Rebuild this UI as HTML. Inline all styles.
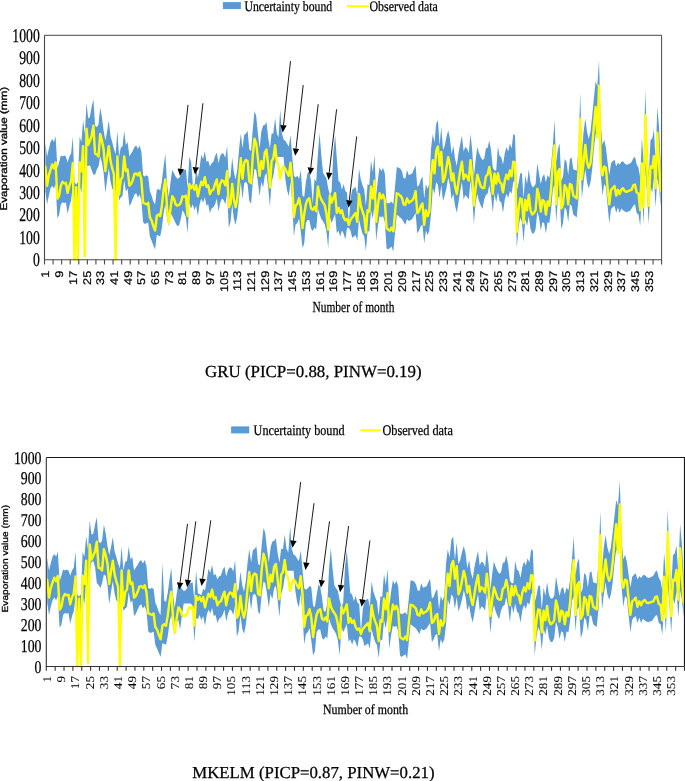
<!DOCTYPE html>
<html><head><meta charset="utf-8"><title>chart</title>
<style>html,body{margin:0;padding:0;background:#fff;}svg{display:block;opacity:0.999;will-change:transform}text{text-rendering:geometricPrecision}</style></head>
<body><svg width="685" height="781" viewBox="0 0 685 781">
<rect width="685" height="781" fill="#fff"/>
<g id="c1">
<polygon points="45.4,143.3 47.1,156.5 48.8,149.1 50.5,141.9 52.2,139.0 53.9,141.9 55.6,136.3 57.4,168.2 59.1,162.4 60.8,155.6 62.5,156.5 64.2,155.6 65.9,156.5 67.6,162.4 69.4,156.5 71.1,153.6 72.8,136.8 74.5,182.3 76.2,184.6 77.9,182.3 79.6,136.8 81.4,141.9 83.1,119.9 84.8,134.1 86.5,103.1 88.2,118.4 89.9,117.0 91.6,106.9 93.4,99.5 95.1,125.8 96.8,127.3 98.5,124.4 100.2,107.6 101.9,117.0 103.6,130.3 105.4,140.4 107.1,131.6 108.8,120.6 110.5,136.1 112.2,141.9 113.9,149.1 115.6,154.3 117.4,130.9 119.1,156.5 120.8,147.6 122.5,146.2 124.2,130.9 125.9,144.9 127.6,141.9 129.4,156.5 131.1,153.6 132.8,150.7 134.5,146.9 136.2,145.5 137.9,149.1 139.6,145.5 141.4,152.0 143.1,175.2 144.8,176.5 146.5,175.2 148.2,176.5 149.9,191.1 151.6,195.6 153.3,201.4 155.1,204.3 156.8,189.8 158.5,188.9 160.2,190.4 161.9,181.0 163.6,166.4 165.3,153.8 167.1,183.9 168.8,196.9 170.5,182.3 172.2,170.0 173.9,172.9 175.6,176.5 177.3,178.8 179.1,178.1 180.8,175.2 182.5,170.7 184.2,170.0 185.9,169.3 187.6,188.2 189.3,156.8 191.1,161.9 192.8,183.9 194.5,185.3 196.2,169.3 197.9,178.1 199.6,167.8 201.3,154.7 203.1,159.0 204.8,150.9 206.5,161.9 208.2,160.6 209.9,166.4 211.6,163.3 213.3,161.9 215.1,156.1 216.8,152.5 218.5,163.3 220.2,156.1 221.9,153.2 223.6,153.8 225.3,157.7 227.1,145.8 228.8,179.4 230.5,176.5 232.2,157.7 233.9,172.2 235.6,179.4 237.3,169.3 239.1,148.7 240.8,133.6 242.5,148.2 244.2,135.0 245.9,133.6 247.6,130.7 249.3,149.6 251.1,151.1 252.8,129.1 254.5,111.0 256.2,116.1 257.9,133.6 259.6,148.2 261.3,132.1 263.1,125.5 264.8,124.9 266.5,122.0 268.2,137.9 269.9,148.2 271.6,133.6 273.3,133.6 275.1,118.1 276.8,133.6 278.5,137.2 280.2,109.4 281.9,133.6 283.6,139.5 285.3,140.8 287.1,143.7 288.8,146.7 290.5,135.0 292.2,155.4 293.9,175.8 295.6,177.4 297.3,175.8 299.1,178.8 300.8,170.0 302.5,195.8 304.2,196.9 305.9,181.7 307.6,172.9 309.3,171.6 311.1,181.7 312.8,203.7 314.5,178.8 316.2,181.7 317.9,154.1 319.6,132.7 321.3,155.4 323.1,172.9 324.8,175.8 326.5,178.8 328.2,188.6 329.9,195.1 331.6,191.3 333.3,152.5 335.1,135.0 336.8,158.3 338.5,181.0 340.2,182.3 341.9,189.8 343.6,183.9 345.3,191.1 347.1,192.7 348.8,223.4 350.5,198.5 352.2,189.8 353.9,188.2 355.6,186.8 357.3,195.6 359.0,168.4 360.8,179.4 362.5,185.3 364.2,189.8 365.9,205.7 367.6,183.9 369.3,185.3 371.0,160.3 372.8,172.2 374.5,154.7 376.2,195.6 377.9,179.4 379.6,167.1 381.3,171.3 383.0,167.8 384.8,173.6 386.5,202.8 388.2,203.5 389.9,202.8 391.6,201.4 393.3,204.3 395.0,186.8 396.8,167.1 398.5,167.8 400.2,168.4 401.9,171.3 403.6,178.1 405.3,178.8 407.0,170.0 408.8,175.2 410.5,174.3 412.2,173.6 413.9,169.3 415.6,165.5 417.3,186.8 419.0,185.3 420.8,179.4 422.5,176.5 424.2,198.5 425.9,183.9 427.6,188.9 429.3,183.9 431.0,148.4 432.8,133.9 434.5,142.6 436.2,123.8 437.9,120.2 439.6,145.5 441.3,126.7 443.0,150.0 444.8,145.5 446.5,136.8 448.2,130.3 449.9,138.3 451.6,154.3 453.3,145.5 455.0,158.8 456.8,166.0 458.5,152.9 460.2,144.2 461.9,135.4 463.6,151.4 465.3,147.1 467.0,148.4 468.8,152.9 470.5,133.9 472.2,150.0 473.9,177.6 475.6,160.1 477.3,147.1 479.0,152.9 480.8,157.2 482.5,160.1 484.2,158.8 485.9,148.4 487.6,147.8 489.3,140.6 491.0,150.0 492.8,167.5 494.5,170.4 496.2,170.4 497.9,146.4 499.6,155.9 501.3,157.2 503.0,164.6 504.8,152.9 506.5,147.1 508.2,151.4 509.9,143.5 511.6,148.4 513.3,133.9 515.0,135.4 516.8,190.9 518.5,183.5 520.2,173.4 521.9,172.9 523.6,198.5 525.3,174.9 527.0,183.9 528.8,169.3 530.5,182.3 532.2,186.8 533.9,186.8 535.6,183.9 537.3,163.3 539.0,173.6 540.8,183.9 542.5,176.5 544.2,174.3 545.9,182.3 547.6,174.9 549.3,178.1 551.0,166.2 552.8,145.8 554.5,120.2 556.2,161.9 557.9,148.7 559.6,143.5 561.3,181.0 563.0,176.5 564.7,159.0 566.5,161.9 568.2,174.9 569.9,159.0 571.6,157.4 573.3,169.3 575.0,170.0 576.7,170.7 578.5,148.7 580.2,93.0 581.9,152.3 583.6,131.8 585.3,118.6 587.0,131.8 588.7,139.0 590.5,131.8 592.2,115.7 593.9,98.2 595.6,81.3 597.3,86.5 599.0,60.2 600.7,123.1 602.5,144.9 604.2,139.7 605.9,147.6 607.6,161.9 609.3,174.9 611.0,163.5 612.7,161.2 614.5,159.7 616.2,166.4 617.9,162.6 619.6,164.8 621.3,161.9 623.0,161.2 624.7,163.5 626.5,164.8 628.2,164.2 629.9,163.5 631.6,161.9 633.3,158.3 635.0,156.8 636.7,164.8 638.5,167.8 640.2,178.1 641.9,137.2 643.6,163.5 645.3,90.1 647.0,141.5 648.7,175.2 650.5,140.1 652.2,138.6 653.9,129.8 655.6,160.6 657.3,106.9 659.0,126.9 660.7,163.5 660.7,207.3 659.0,186.8 657.3,178.1 655.6,207.3 653.9,178.1 652.2,192.7 650.5,186.8 648.7,223.9 647.0,192.4 645.3,170.0 643.6,223.9 641.9,192.4 640.2,226.1 638.5,214.5 636.7,213.1 635.0,204.3 633.3,205.7 631.6,208.6 629.9,210.9 628.2,211.5 626.5,212.2 624.7,211.5 623.0,210.2 621.3,208.6 619.6,213.1 617.9,207.3 616.2,213.1 614.5,205.7 612.7,207.3 611.0,209.3 609.3,223.2 607.6,205.7 605.9,186.8 604.2,183.9 602.5,195.6 600.7,174.5 599.0,125.1 597.3,138.6 595.6,134.1 593.9,148.7 592.2,169.1 590.5,182.3 588.7,188.2 587.0,182.3 585.3,169.1 583.6,182.3 581.9,198.5 580.2,152.0 578.5,198.5 576.7,217.4 575.0,216.0 573.3,214.5 571.6,205.7 569.9,204.3 568.2,221.9 566.5,210.2 564.7,207.3 563.0,223.2 561.3,229.0 559.6,195.6 557.9,198.5 556.2,221.9 554.5,183.9 552.8,189.8 551.0,210.2 549.3,223.2 547.6,221.9 545.9,233.5 544.2,223.2 542.5,221.9 540.8,230.6 539.0,217.4 537.3,211.5 535.6,229.0 533.9,233.5 532.2,233.5 530.5,229.0 528.8,216.0 527.0,226.1 525.3,218.9 523.6,242.3 521.9,221.9 520.2,217.4 518.5,227.7 516.8,248.1 515.0,180.6 513.3,182.1 511.6,193.8 509.9,190.9 508.2,198.1 506.5,193.8 504.8,199.6 503.0,212.7 501.3,202.6 499.6,201.0 497.9,192.2 496.2,202.6 494.5,193.8 492.8,212.7 491.0,195.1 489.3,185.0 487.6,193.8 485.9,195.1 484.2,199.6 482.5,209.1 480.8,205.5 479.0,201.0 477.3,193.8 475.6,202.6 473.9,224.3 472.2,195.1 470.5,180.6 468.8,199.6 467.0,196.7 465.3,195.1 463.6,199.6 461.9,182.1 460.2,190.9 458.5,202.6 456.8,212.7 455.0,205.5 453.3,193.8 451.6,199.6 449.9,185.0 448.2,177.6 446.5,188.0 444.8,195.1 443.0,201.0 441.3,185.0 439.6,198.1 437.9,185.0 436.2,182.1 434.5,193.8 432.8,188.0 431.0,214.2 429.3,230.6 427.6,234.9 425.9,230.6 424.2,243.6 422.5,224.8 420.8,226.1 419.0,230.6 417.3,233.5 415.6,213.1 413.9,216.0 412.2,218.9 410.5,220.3 408.8,221.0 407.0,218.9 405.3,224.8 403.6,221.9 401.9,218.9 400.2,217.4 398.5,216.0 396.8,214.5 395.0,233.5 393.3,251.7 391.6,246.6 389.9,248.1 388.2,249.5 386.5,248.1 384.8,221.9 383.0,216.0 381.3,217.4 379.6,216.0 377.9,226.1 376.2,240.7 374.5,204.3 372.8,218.9 371.0,210.2 369.3,232.0 367.6,230.6 365.9,251.0 364.2,236.5 362.5,233.5 360.8,227.7 359.0,218.9 357.3,240.7 355.6,234.9 353.9,236.5 352.2,237.8 350.5,230.6 348.8,227.7 347.1,227.7 345.3,239.4 343.6,233.5 341.9,230.6 340.2,236.5 338.5,230.6 336.8,233.3 335.1,214.2 333.3,218.7 331.6,223.0 329.9,217.1 328.2,247.9 326.5,231.7 324.8,224.6 323.1,221.6 321.3,218.7 319.6,214.2 317.9,208.4 316.2,229.5 314.5,227.5 312.8,231.1 311.1,228.8 309.3,220.1 307.6,220.1 305.9,223.0 304.2,243.4 302.5,247.9 300.8,231.7 299.1,218.7 297.3,223.0 295.6,224.6 293.9,236.2 292.2,202.1 290.5,181.7 288.8,196.3 287.1,190.4 285.3,178.8 283.6,157.0 281.9,157.0 280.2,157.0 278.5,157.0 276.8,157.0 275.1,164.2 273.3,175.8 271.6,181.7 269.9,206.6 268.2,187.5 266.5,172.9 264.8,175.8 263.1,187.5 261.3,181.7 259.6,196.3 257.9,181.7 256.2,170.0 254.5,168.7 252.8,181.7 251.1,203.7 249.3,200.8 247.6,184.6 245.9,181.7 244.2,183.2 242.5,199.2 240.8,181.7 239.1,198.5 237.3,216.0 235.6,224.8 233.9,218.9 232.2,204.3 230.5,221.9 228.8,227.7 227.1,194.0 225.3,204.3 223.6,199.9 221.9,198.5 220.2,202.8 218.5,211.5 216.8,198.5 215.1,204.3 213.3,207.3 211.6,208.6 209.9,213.1 208.2,204.3 206.5,205.7 204.8,196.9 203.1,202.8 201.3,198.5 199.6,204.3 197.9,216.0 196.2,205.7 194.5,210.2 192.8,204.3 191.1,208.6 189.3,202.8 187.6,233.5 185.9,217.4 184.2,213.1 182.5,210.2 180.8,218.9 179.1,225.5 177.3,226.1 175.6,223.2 173.9,219.6 172.2,216.0 170.5,213.1 168.8,226.1 167.1,218.9 165.3,204.3 163.6,213.1 161.9,227.7 160.2,236.5 158.5,235.6 156.8,234.9 155.1,249.5 153.3,245.2 151.6,240.7 149.9,236.5 148.2,222.5 146.5,223.2 144.8,223.9 143.1,221.9 141.4,200.3 139.6,194.5 137.9,197.4 136.2,192.9 134.5,194.5 132.8,198.7 131.1,203.2 129.4,205.9 127.6,188.6 125.9,191.3 124.2,179.9 122.5,195.8 120.8,197.4 119.1,200.3 117.4,179.9 115.6,194.7 113.9,191.3 112.2,188.6 110.5,181.2 108.8,168.2 107.1,179.9 105.4,192.9 103.6,172.5 101.9,162.4 100.2,156.5 98.5,166.6 96.8,169.6 95.1,174.7 93.4,174.5 91.6,170.0 89.9,165.3 88.2,166.0 86.5,166.0 84.8,174.5 83.1,170.0 81.4,192.4 79.6,185.7 77.9,208.2 76.2,205.9 74.5,208.2 72.8,185.7 71.1,200.3 69.4,205.9 67.6,213.8 65.9,202.3 64.2,203.2 62.5,202.3 60.8,204.6 59.1,214.9 57.4,218.3 55.6,184.1 53.9,188.6 52.2,185.7 50.5,188.6 48.8,195.8 47.1,204.6 45.4,191.3" fill="#5B9BD5"/>
<polyline points="45.4,166.6 47.1,185.7 48.8,175.4 50.5,170.0 52.2,164.4 53.9,168.2 55.6,162.4 57.4,198.7 59.1,195.8 60.8,185.7 62.5,181.9 64.2,183.5 65.9,182.8 67.6,192.9 69.4,185.7 71.1,181.2 72.8,163.0 74.5,259.8 76.2,187.1 77.9,259.8 79.6,162.4 81.4,171.1 83.1,146.2 84.8,255.8 86.5,128.7 88.2,144.9 89.9,140.8 91.6,136.1 93.4,125.8 95.1,153.6 96.8,154.3 98.5,156.5 100.2,133.9 101.9,140.4 103.6,149.1 105.4,171.1 107.1,157.9 108.8,146.2 110.5,160.8 112.2,168.2 113.9,174.0 115.6,259.8 117.4,156.5 119.1,194.5 120.8,179.9 122.5,177.0 124.2,156.5 125.9,171.1 127.6,169.6 129.4,185.7 131.1,184.1 132.8,179.9 134.5,174.0 136.2,173.4 137.9,175.4 139.6,172.5 141.4,179.9 143.1,202.8 144.8,203.5 146.5,204.3 148.2,202.8 149.9,217.4 151.6,220.3 153.3,226.1 155.1,230.6 156.8,216.0 158.5,214.5 160.2,216.0 161.9,205.7 163.6,189.8 165.3,179.4 167.1,208.6 168.8,223.2 170.5,208.6 172.2,196.3 173.9,198.5 175.6,204.3 177.3,205.7 179.1,205.0 180.8,202.8 182.5,196.3 184.2,196.9 185.9,195.6 187.6,216.0 189.3,183.9 191.1,188.2 192.8,185.3 194.5,189.8 196.2,185.3 197.9,196.3 199.6,188.2 201.3,181.7 203.1,185.3 204.8,177.2 206.5,186.8 208.2,185.3 209.9,194.0 211.6,190.4 213.3,189.8 215.1,183.9 216.8,179.4 218.5,194.0 220.2,183.9 221.9,180.3 223.6,181.0 225.3,185.3 227.1,171.3 228.8,207.3 230.5,204.3 232.2,183.9 233.9,199.9 235.6,207.3 237.3,198.5 239.1,176.5 240.8,158.3 242.5,178.8 244.2,162.8 245.9,159.9 247.6,161.2 249.3,181.7 251.1,183.2 252.8,155.4 254.5,138.8 256.2,143.7 257.9,158.3 259.6,175.8 261.3,161.2 263.1,168.7 264.8,152.5 266.5,149.6 268.2,165.7 269.9,187.5 271.6,161.2 273.3,158.3 275.1,145.3 276.8,161.2 278.5,165.7 280.2,178.8 281.9,170.0 283.6,166.4 285.3,168.7 287.1,172.9 288.8,175.8 290.5,162.8 292.2,181.7 293.9,217.1 295.6,205.5 297.3,204.1 299.1,198.3 300.8,207.0 302.5,228.1 304.2,214.2 305.9,204.1 307.6,199.6 309.3,198.3 311.1,208.4 312.8,210.0 314.5,207.0 316.2,211.3 317.9,186.6 319.6,195.4 321.3,199.6 323.1,202.6 324.8,205.5 326.5,214.2 328.2,229.5 329.9,195.4 331.6,202.6 333.3,198.3 335.1,193.1 336.8,212.9 338.5,207.9 340.2,213.1 341.9,210.2 343.6,217.4 345.3,220.3 347.1,218.9 348.8,224.8 350.5,219.6 352.2,217.4 353.9,215.1 355.6,213.1 357.3,221.9 359.0,194.0 360.8,205.7 362.5,211.5 364.2,216.0 365.9,232.6 367.6,210.2 369.3,211.5 371.0,186.8 372.8,198.5 374.5,180.8 376.2,221.9 377.9,205.7 379.6,193.3 381.3,198.5 383.0,194.7 384.8,199.9 386.5,227.7 388.2,229.7 389.9,230.6 391.6,227.7 393.3,231.3 395.0,213.1 396.8,193.3 398.5,194.0 400.2,195.6 401.9,197.6 403.6,204.3 405.3,205.0 407.0,198.5 408.8,202.8 410.5,201.4 412.2,200.5 413.9,197.6 415.6,191.1 417.3,213.1 419.0,211.5 420.8,205.7 422.5,203.5 424.2,224.8 425.9,210.2 427.6,216.0 429.3,211.5 431.0,176.3 432.8,160.1 434.5,173.4 436.2,150.9 437.9,146.4 439.6,165.5 441.3,152.0 443.0,182.1 444.8,177.6 446.5,167.5 448.2,157.2 449.9,164.6 451.6,180.6 453.3,173.4 455.0,186.4 456.8,193.8 458.5,182.1 460.2,170.4 461.9,161.7 463.6,179.2 465.3,174.7 467.0,176.3 468.8,180.6 470.5,160.1 472.2,176.3 473.9,205.5 475.6,188.0 477.3,174.7 479.0,180.6 480.8,186.4 482.5,188.0 484.2,188.0 485.9,176.3 487.6,174.7 489.3,166.9 491.0,176.3 492.8,193.8 494.5,173.4 496.2,183.5 497.9,173.4 499.6,182.1 501.3,183.5 503.0,192.2 504.8,180.6 506.5,174.7 508.2,179.2 509.9,170.4 511.6,176.3 513.3,161.7 515.0,162.4 516.8,232.0 518.5,210.2 520.2,198.5 521.9,199.2 523.6,223.2 525.3,199.9 527.0,210.2 528.8,194.7 530.5,210.2 532.2,214.5 533.9,213.1 535.6,210.2 537.3,188.9 539.0,195.6 540.8,211.5 542.5,199.9 544.2,201.4 545.9,214.5 547.6,201.4 549.3,205.7 551.0,189.8 552.8,163.3 554.5,145.5 556.2,204.3 557.9,172.0 559.6,169.1 561.3,208.6 563.0,204.3 564.7,185.3 566.5,188.2 568.2,204.3 569.9,183.9 571.6,185.3 573.3,195.6 575.0,196.9 576.7,198.5 578.5,172.0 580.2,118.6 581.9,179.4 583.6,161.9 585.3,144.9 587.0,161.9 588.7,167.8 590.5,163.3 592.2,147.3 593.9,125.1 595.6,106.9 597.3,137.7 599.0,85.8 600.7,165.5 602.5,175.2 604.2,166.4 605.9,167.8 607.6,188.2 609.3,204.3 611.0,189.8 612.7,188.2 614.5,185.9 616.2,195.6 617.9,189.8 619.6,194.0 621.3,189.8 623.0,188.2 624.7,191.1 626.5,191.8 628.2,191.1 629.9,190.4 631.6,189.8 633.3,185.3 635.0,184.6 636.7,192.7 638.5,193.3 640.2,210.2 641.9,163.5 643.6,207.3 645.3,115.2 647.0,163.5 648.7,205.7 650.5,166.4 652.2,167.8 653.9,156.1 655.6,188.2 657.3,132.7 659.0,163.5 660.7,191.1" fill="none" stroke="#FFFF00" stroke-width="2.4" stroke-linejoin="round" stroke-linecap="round"/>
<path d="M44.5,35.3 H661.6 V259.8" fill="none" stroke="#333" stroke-width="0.9"/>
<path d="M44.5,35.3 V259.8 H661.6" fill="none" stroke="#484848" stroke-width="1.1"/>
<path d="M44.50,259.8 v4.7M53.07,259.8 v4.7M61.64,259.8 v4.7M70.21,259.8 v4.7M78.78,259.8 v4.7M87.35,259.8 v4.7M95.93,259.8 v4.7M104.50,259.8 v4.7M113.07,259.8 v4.7M121.64,259.8 v4.7M130.21,259.8 v4.7M138.78,259.8 v4.7M147.35,259.8 v4.7M155.92,259.8 v4.7M164.49,259.8 v4.7M173.06,259.8 v4.7M181.63,259.8 v4.7M190.20,259.8 v4.7M198.78,259.8 v4.7M207.35,259.8 v4.7M215.92,259.8 v4.7M224.49,259.8 v4.7M233.06,259.8 v4.7M241.63,259.8 v4.7M250.20,259.8 v4.7M258.77,259.8 v4.7M267.34,259.8 v4.7M275.91,259.8 v4.7M284.48,259.8 v4.7M293.05,259.8 v4.7M301.62,259.8 v4.7M310.20,259.8 v4.7M318.77,259.8 v4.7M327.34,259.8 v4.7M335.91,259.8 v4.7M344.48,259.8 v4.7M353.05,259.8 v4.7M361.62,259.8 v4.7M370.19,259.8 v4.7M378.76,259.8 v4.7M387.33,259.8 v4.7M395.90,259.8 v4.7M404.48,259.8 v4.7M413.05,259.8 v4.7M421.62,259.8 v4.7M430.19,259.8 v4.7M438.76,259.8 v4.7M447.33,259.8 v4.7M455.90,259.8 v4.7M464.47,259.8 v4.7M473.04,259.8 v4.7M481.61,259.8 v4.7M490.18,259.8 v4.7M498.75,259.8 v4.7M507.33,259.8 v4.7M515.90,259.8 v4.7M524.47,259.8 v4.7M533.04,259.8 v4.7M541.61,259.8 v4.7M550.18,259.8 v4.7M558.75,259.8 v4.7M567.32,259.8 v4.7M575.89,259.8 v4.7M584.46,259.8 v4.7M593.03,259.8 v4.7M601.60,259.8 v4.7M610.18,259.8 v4.7M618.75,259.8 v4.7M627.32,259.8 v4.7M635.89,259.8 v4.7M644.46,259.8 v4.7M653.03,259.8 v4.7M661.60,259.8 v4.7" stroke="#484848" stroke-width="1.1" fill="none"/>
<text transform="translate(49.36,270.80) rotate(-90) scale(1.000,0.880)" font-family="Liberation Sans, serif" font-size="12.7" text-anchor="end" fill="#000" stroke="#000" stroke-width="0.22">1</text>
<text transform="translate(63.07,270.80) rotate(-90) scale(1.000,0.880)" font-family="Liberation Sans, serif" font-size="12.7" text-anchor="end" fill="#000" stroke="#000" stroke-width="0.22">9</text>
<text transform="translate(76.78,270.80) rotate(-90) scale(1.000,0.880)" font-family="Liberation Sans, serif" font-size="12.7" text-anchor="end" fill="#000" stroke="#000" stroke-width="0.22">17</text>
<text transform="translate(90.50,270.80) rotate(-90) scale(1.000,0.880)" font-family="Liberation Sans, serif" font-size="12.7" text-anchor="end" fill="#000" stroke="#000" stroke-width="0.22">25</text>
<text transform="translate(104.21,270.80) rotate(-90) scale(1.000,0.880)" font-family="Liberation Sans, serif" font-size="12.7" text-anchor="end" fill="#000" stroke="#000" stroke-width="0.22">33</text>
<text transform="translate(117.92,270.80) rotate(-90) scale(1.000,0.880)" font-family="Liberation Sans, serif" font-size="12.7" text-anchor="end" fill="#000" stroke="#000" stroke-width="0.22">41</text>
<text transform="translate(131.64,270.80) rotate(-90) scale(1.000,0.880)" font-family="Liberation Sans, serif" font-size="12.7" text-anchor="end" fill="#000" stroke="#000" stroke-width="0.22">49</text>
<text transform="translate(145.35,270.80) rotate(-90) scale(1.000,0.880)" font-family="Liberation Sans, serif" font-size="12.7" text-anchor="end" fill="#000" stroke="#000" stroke-width="0.22">57</text>
<text transform="translate(159.06,270.80) rotate(-90) scale(1.000,0.880)" font-family="Liberation Sans, serif" font-size="12.7" text-anchor="end" fill="#000" stroke="#000" stroke-width="0.22">65</text>
<text transform="translate(172.78,270.80) rotate(-90) scale(1.000,0.880)" font-family="Liberation Sans, serif" font-size="12.7" text-anchor="end" fill="#000" stroke="#000" stroke-width="0.22">73</text>
<text transform="translate(186.49,270.80) rotate(-90) scale(1.000,0.880)" font-family="Liberation Sans, serif" font-size="12.7" text-anchor="end" fill="#000" stroke="#000" stroke-width="0.22">81</text>
<text transform="translate(200.20,270.80) rotate(-90) scale(1.000,0.880)" font-family="Liberation Sans, serif" font-size="12.7" text-anchor="end" fill="#000" stroke="#000" stroke-width="0.22">89</text>
<text transform="translate(213.92,270.80) rotate(-90) scale(1.000,0.880)" font-family="Liberation Sans, serif" font-size="12.7" text-anchor="end" fill="#000" stroke="#000" stroke-width="0.22">97</text>
<text transform="translate(227.63,270.80) rotate(-90) scale(1.000,0.880)" font-family="Liberation Sans, serif" font-size="12.7" text-anchor="end" fill="#000" stroke="#000" stroke-width="0.22">105</text>
<text transform="translate(241.34,270.80) rotate(-90) scale(1.000,0.880)" font-family="Liberation Sans, serif" font-size="12.7" text-anchor="end" fill="#000" stroke="#000" stroke-width="0.22">113</text>
<text transform="translate(255.06,270.80) rotate(-90) scale(1.000,0.880)" font-family="Liberation Sans, serif" font-size="12.7" text-anchor="end" fill="#000" stroke="#000" stroke-width="0.22">121</text>
<text transform="translate(268.77,270.80) rotate(-90) scale(1.000,0.880)" font-family="Liberation Sans, serif" font-size="12.7" text-anchor="end" fill="#000" stroke="#000" stroke-width="0.22">129</text>
<text transform="translate(282.48,270.80) rotate(-90) scale(1.000,0.880)" font-family="Liberation Sans, serif" font-size="12.7" text-anchor="end" fill="#000" stroke="#000" stroke-width="0.22">137</text>
<text transform="translate(296.20,270.80) rotate(-90) scale(1.000,0.880)" font-family="Liberation Sans, serif" font-size="12.7" text-anchor="end" fill="#000" stroke="#000" stroke-width="0.22">145</text>
<text transform="translate(309.91,270.80) rotate(-90) scale(1.000,0.880)" font-family="Liberation Sans, serif" font-size="12.7" text-anchor="end" fill="#000" stroke="#000" stroke-width="0.22">153</text>
<text transform="translate(323.62,270.80) rotate(-90) scale(1.000,0.880)" font-family="Liberation Sans, serif" font-size="12.7" text-anchor="end" fill="#000" stroke="#000" stroke-width="0.22">161</text>
<text transform="translate(337.34,270.80) rotate(-90) scale(1.000,0.880)" font-family="Liberation Sans, serif" font-size="12.7" text-anchor="end" fill="#000" stroke="#000" stroke-width="0.22">169</text>
<text transform="translate(351.05,270.80) rotate(-90) scale(1.000,0.880)" font-family="Liberation Sans, serif" font-size="12.7" text-anchor="end" fill="#000" stroke="#000" stroke-width="0.22">177</text>
<text transform="translate(364.76,270.80) rotate(-90) scale(1.000,0.880)" font-family="Liberation Sans, serif" font-size="12.7" text-anchor="end" fill="#000" stroke="#000" stroke-width="0.22">185</text>
<text transform="translate(378.48,270.80) rotate(-90) scale(1.000,0.880)" font-family="Liberation Sans, serif" font-size="12.7" text-anchor="end" fill="#000" stroke="#000" stroke-width="0.22">193</text>
<text transform="translate(392.19,270.80) rotate(-90) scale(1.000,0.880)" font-family="Liberation Sans, serif" font-size="12.7" text-anchor="end" fill="#000" stroke="#000" stroke-width="0.22">201</text>
<text transform="translate(405.90,270.80) rotate(-90) scale(1.000,0.880)" font-family="Liberation Sans, serif" font-size="12.7" text-anchor="end" fill="#000" stroke="#000" stroke-width="0.22">209</text>
<text transform="translate(419.62,270.80) rotate(-90) scale(1.000,0.880)" font-family="Liberation Sans, serif" font-size="12.7" text-anchor="end" fill="#000" stroke="#000" stroke-width="0.22">217</text>
<text transform="translate(433.33,270.80) rotate(-90) scale(1.000,0.880)" font-family="Liberation Sans, serif" font-size="12.7" text-anchor="end" fill="#000" stroke="#000" stroke-width="0.22">225</text>
<text transform="translate(447.04,270.80) rotate(-90) scale(1.000,0.880)" font-family="Liberation Sans, serif" font-size="12.7" text-anchor="end" fill="#000" stroke="#000" stroke-width="0.22">233</text>
<text transform="translate(460.76,270.80) rotate(-90) scale(1.000,0.880)" font-family="Liberation Sans, serif" font-size="12.7" text-anchor="end" fill="#000" stroke="#000" stroke-width="0.22">241</text>
<text transform="translate(474.47,270.80) rotate(-90) scale(1.000,0.880)" font-family="Liberation Sans, serif" font-size="12.7" text-anchor="end" fill="#000" stroke="#000" stroke-width="0.22">249</text>
<text transform="translate(488.18,270.80) rotate(-90) scale(1.000,0.880)" font-family="Liberation Sans, serif" font-size="12.7" text-anchor="end" fill="#000" stroke="#000" stroke-width="0.22">257</text>
<text transform="translate(501.90,270.80) rotate(-90) scale(1.000,0.880)" font-family="Liberation Sans, serif" font-size="12.7" text-anchor="end" fill="#000" stroke="#000" stroke-width="0.22">265</text>
<text transform="translate(515.61,270.80) rotate(-90) scale(1.000,0.880)" font-family="Liberation Sans, serif" font-size="12.7" text-anchor="end" fill="#000" stroke="#000" stroke-width="0.22">273</text>
<text transform="translate(529.32,270.80) rotate(-90) scale(1.000,0.880)" font-family="Liberation Sans, serif" font-size="12.7" text-anchor="end" fill="#000" stroke="#000" stroke-width="0.22">281</text>
<text transform="translate(543.04,270.80) rotate(-90) scale(1.000,0.880)" font-family="Liberation Sans, serif" font-size="12.7" text-anchor="end" fill="#000" stroke="#000" stroke-width="0.22">289</text>
<text transform="translate(556.75,270.80) rotate(-90) scale(1.000,0.880)" font-family="Liberation Sans, serif" font-size="12.7" text-anchor="end" fill="#000" stroke="#000" stroke-width="0.22">297</text>
<text transform="translate(570.46,270.80) rotate(-90) scale(1.000,0.880)" font-family="Liberation Sans, serif" font-size="12.7" text-anchor="end" fill="#000" stroke="#000" stroke-width="0.22">305</text>
<text transform="translate(584.18,270.80) rotate(-90) scale(1.000,0.880)" font-family="Liberation Sans, serif" font-size="12.7" text-anchor="end" fill="#000" stroke="#000" stroke-width="0.22">313</text>
<text transform="translate(597.89,270.80) rotate(-90) scale(1.000,0.880)" font-family="Liberation Sans, serif" font-size="12.7" text-anchor="end" fill="#000" stroke="#000" stroke-width="0.22">321</text>
<text transform="translate(611.60,270.80) rotate(-90) scale(1.000,0.880)" font-family="Liberation Sans, serif" font-size="12.7" text-anchor="end" fill="#000" stroke="#000" stroke-width="0.22">329</text>
<text transform="translate(625.32,270.80) rotate(-90) scale(1.000,0.880)" font-family="Liberation Sans, serif" font-size="12.7" text-anchor="end" fill="#000" stroke="#000" stroke-width="0.22">337</text>
<text transform="translate(639.03,270.80) rotate(-90) scale(1.000,0.880)" font-family="Liberation Sans, serif" font-size="12.7" text-anchor="end" fill="#000" stroke="#000" stroke-width="0.22">345</text>
<text transform="translate(652.74,270.80) rotate(-90) scale(1.000,0.880)" font-family="Liberation Sans, serif" font-size="12.7" text-anchor="end" fill="#000" stroke="#000" stroke-width="0.22">353</text>
<text transform="translate(39.80,266.30) scale(0.708,1.000)" font-family="Liberation Serif, serif" font-size="19.4" text-anchor="end" fill="#000" stroke="#000" stroke-width="0.25">0</text>
<text transform="translate(39.80,243.85) scale(0.708,1.000)" font-family="Liberation Serif, serif" font-size="19.4" text-anchor="end" fill="#000" stroke="#000" stroke-width="0.25">100</text>
<text transform="translate(39.80,221.40) scale(0.708,1.000)" font-family="Liberation Serif, serif" font-size="19.4" text-anchor="end" fill="#000" stroke="#000" stroke-width="0.25">200</text>
<text transform="translate(39.80,198.95) scale(0.708,1.000)" font-family="Liberation Serif, serif" font-size="19.4" text-anchor="end" fill="#000" stroke="#000" stroke-width="0.25">300</text>
<text transform="translate(39.80,176.50) scale(0.708,1.000)" font-family="Liberation Serif, serif" font-size="19.4" text-anchor="end" fill="#000" stroke="#000" stroke-width="0.25">400</text>
<text transform="translate(39.80,154.05) scale(0.708,1.000)" font-family="Liberation Serif, serif" font-size="19.4" text-anchor="end" fill="#000" stroke="#000" stroke-width="0.25">500</text>
<text transform="translate(39.80,131.60) scale(0.708,1.000)" font-family="Liberation Serif, serif" font-size="19.4" text-anchor="end" fill="#000" stroke="#000" stroke-width="0.25">600</text>
<text transform="translate(39.80,109.15) scale(0.708,1.000)" font-family="Liberation Serif, serif" font-size="19.4" text-anchor="end" fill="#000" stroke="#000" stroke-width="0.25">700</text>
<text transform="translate(39.80,86.70) scale(0.708,1.000)" font-family="Liberation Serif, serif" font-size="19.4" text-anchor="end" fill="#000" stroke="#000" stroke-width="0.25">800</text>
<text transform="translate(39.80,64.25) scale(0.708,1.000)" font-family="Liberation Serif, serif" font-size="19.4" text-anchor="end" fill="#000" stroke="#000" stroke-width="0.25">900</text>
<text transform="translate(39.80,41.80) scale(0.708,1.000)" font-family="Liberation Serif, serif" font-size="19.4" text-anchor="end" fill="#000" stroke="#000" stroke-width="0.25">1000</text>
<text transform="translate(7.3,148.7) rotate(-90) scale(1.19,1)" font-family="Liberation Sans, sans-serif" font-size="9.8" text-anchor="middle" fill="#000" stroke="#000" stroke-width="0.3">Evaporation value (mm)</text>
<text transform="translate(312.50,311.50) scale(0.747,1.000)" font-family="Liberation Serif, serif" font-size="15.3" text-anchor="start" fill="#000" stroke="#000" stroke-width="0.25">Number of month</text>
<rect x="222.9" y="2.1" width="18" height="7" fill="#5B9BD5"/>
<text transform="translate(244.40,10.90) scale(0.816,1.000)" font-family="Liberation Serif, serif" font-size="14.4" text-anchor="start" fill="#000" stroke="#000" stroke-width="0.25">Uncertainty bound</text>
<path d="M347,6.2 H368.8" stroke="#FFFF00" stroke-width="2"/>
<text transform="translate(369.50,10.90) scale(0.827,1.000)" font-family="Liberation Serif, serif" font-size="14.4" text-anchor="start" fill="#000" stroke="#000" stroke-width="0.25">Observed data</text>
<path d="M188.0,104.9 L180.8,168.8" stroke="#000" stroke-width="0.9" fill="none"/>
<path d="M180.0,176.1 L177.6,168.5 L184.0,169.2 Z" fill="#000"/>
<path d="M202.9,103.3 L195.8,167.2" stroke="#000" stroke-width="0.9" fill="none"/>
<path d="M195.0,174.5 L192.6,166.9 L199.0,167.6 Z" fill="#000"/>
<path d="M290.5,61.1 L283.5,125.2" stroke="#000" stroke-width="0.9" fill="none"/>
<path d="M282.7,132.5 L280.3,124.9 L286.7,125.6 Z" fill="#000"/>
<path d="M303.2,85.1 L296.0,148.5" stroke="#000" stroke-width="0.9" fill="none"/>
<path d="M295.2,155.8 L292.8,148.2 L299.2,148.9 Z" fill="#000"/>
<path d="M318.2,104.2 L310.8,167.6" stroke="#000" stroke-width="0.9" fill="none"/>
<path d="M310.0,174.9 L307.7,167.3 L314.0,168.0 Z" fill="#000"/>
<path d="M336.6,109.3 L329.2,172.7" stroke="#000" stroke-width="0.9" fill="none"/>
<path d="M328.4,180.0 L326.1,172.4 L332.4,173.1 Z" fill="#000"/>
<path d="M356.7,136.4 L349.3,200.4" stroke="#000" stroke-width="0.9" fill="none"/>
<path d="M348.5,207.7 L346.2,200.1 L352.5,200.8 Z" fill="#000"/>
<text transform="translate(205.00,377.00)" font-family="Liberation Serif, serif" font-size="16.9" text-anchor="start" fill="#000" stroke="#000" stroke-width="0.25">GRU (PICP=0.88, PINW=0.19)</text>
</g>
<g id="c2">
<polygon points="47.2,558.0 49.0,570.4 50.7,563.5 52.5,556.8 54.3,554.1 56.1,556.8 57.8,551.5 59.6,581.2 61.4,575.8 63.1,569.5 64.9,570.4 66.7,569.5 68.5,570.4 70.2,575.8 72.0,570.4 73.8,567.6 75.6,552.0 77.3,594.4 79.1,596.5 80.9,594.4 82.6,552.0 84.4,556.8 86.2,536.3 88.0,549.5 89.7,520.6 91.5,534.8 93.3,533.6 95.1,524.2 96.8,517.3 98.6,541.7 100.4,543.2 102.1,540.5 103.9,524.8 105.7,533.6 107.5,545.9 109.2,555.3 111.0,547.2 112.8,536.9 114.6,551.3 116.3,556.8 118.1,563.5 119.9,568.3 121.6,546.5 123.4,570.4 125.2,562.0 127.0,560.7 128.7,546.5 130.5,559.5 132.3,556.8 134.1,570.4 135.8,567.6 137.6,564.9 139.4,561.4 141.1,560.1 142.9,563.5 144.7,560.1 146.5,566.2 148.2,587.7 150.0,589.0 151.8,587.7 153.6,589.0 155.3,602.5 157.1,606.7 158.9,612.2 160.6,614.9 162.4,562.4 164.2,600.5 166.0,601.9 167.7,593.1 169.5,579.6 171.3,567.9 173.1,595.9 174.8,608.0 176.6,594.4 178.4,582.9 180.1,585.6 181.9,589.0 183.7,591.1 185.5,590.4 187.2,587.7 189.0,583.5 190.8,582.9 192.6,582.3 194.3,599.8 196.1,570.6 197.9,592.9 199.6,594.2 201.4,595.0 203.2,588.8 205.0,590.4 206.7,580.8 208.5,568.7 210.3,572.7 212.1,565.1 213.8,575.4 215.6,574.1 217.4,579.6 219.1,576.6 220.9,575.4 222.7,569.9 224.5,566.6 226.2,576.6 228.0,569.9 229.8,567.2 231.6,567.9 233.3,571.4 235.1,560.3 236.9,591.7 238.6,589.0 240.4,571.4 242.2,585.0 244.0,591.7 245.7,582.3 247.5,563.0 249.3,549.0 251.1,562.6 252.8,550.3 254.6,549.0 256.4,546.3 258.1,563.9 259.9,565.3 261.7,544.9 263.5,527.9 265.2,532.7 267.0,549.0 268.8,562.6 270.6,547.6 272.3,541.5 274.1,540.9 275.9,538.2 277.6,553.0 279.4,562.6 281.2,549.0 283.0,549.0 284.7,534.6 286.5,549.0 288.3,552.4 290.1,526.5 291.8,549.0 293.6,554.5 295.4,555.7 297.1,558.4 298.9,561.2 300.7,550.3 302.5,569.3 304.2,588.3 306.0,589.8 307.8,588.3 309.6,586.0 311.3,587.1 313.1,605.9 314.9,606.9 316.6,595.4 318.4,584.6 320.2,587.1 322.0,597.5 323.7,611.1 325.5,611.7 327.3,603.8 329.1,568.1 330.8,548.2 332.6,569.3 334.4,585.6 336.1,588.3 337.9,591.1 339.7,600.2 341.5,606.3 343.2,602.8 345.0,566.6 346.8,550.3 348.6,572.0 350.3,593.1 352.1,594.4 353.9,601.3 355.6,595.9 357.4,602.5 359.2,604.0 361.0,632.6 362.7,609.4 364.5,601.3 366.3,599.8 368.1,598.6 369.8,606.7 371.6,581.4 373.4,591.7 375.2,597.1 376.9,601.3 378.7,616.1 380.5,595.9 382.2,597.1 384.0,573.9 385.8,585.0 387.6,568.7 389.3,606.7 391.1,591.7 392.9,580.2 394.7,584.2 396.4,580.8 398.2,586.2 400.0,613.4 401.7,614.0 403.5,613.4 405.3,612.2 407.1,614.9 408.8,598.6 410.6,580.2 412.4,580.8 414.2,581.4 415.9,584.2 417.7,590.4 419.5,591.1 421.2,582.9 423.0,587.7 424.8,586.9 426.6,586.2 428.3,582.3 430.1,578.7 431.9,598.6 433.7,597.1 435.4,591.7 437.2,589.0 439.0,609.4 440.7,595.9 442.5,600.5 444.3,595.9 446.1,562.8 447.8,549.3 449.6,557.4 451.4,539.8 453.2,536.5 454.9,560.1 456.7,542.6 458.5,564.3 460.2,560.1 462.0,552.0 463.8,545.9 465.6,553.4 467.3,568.3 469.1,560.1 470.9,572.5 472.7,579.1 474.4,567.0 476.2,558.9 478.0,550.7 479.7,565.6 481.5,561.6 483.3,562.8 485.1,567.0 486.8,549.3 488.6,564.3 490.4,590.0 492.2,573.7 493.9,561.6 495.7,567.0 497.5,571.0 499.2,573.7 501.0,572.5 502.8,562.8 504.6,562.2 506.3,555.5 508.1,564.3 509.9,580.6 511.7,583.3 513.4,583.3 515.2,561.0 517.0,569.7 518.7,571.0 520.5,577.9 522.3,567.0 524.1,561.6 525.8,565.6 527.6,558.2 529.4,562.8 531.2,549.3 532.9,550.7 534.7,602.3 536.5,595.4 538.2,586.0 540.0,585.6 541.8,609.4 543.6,587.5 545.3,595.9 547.1,582.3 548.9,594.4 550.7,598.6 552.4,598.6 554.2,595.9 556.0,576.6 557.7,586.2 559.5,595.9 561.3,589.0 563.1,586.9 564.8,594.4 566.6,587.5 568.4,590.4 570.2,579.3 571.9,560.3 573.7,536.5 575.5,575.4 577.2,563.0 579.0,558.2 580.8,593.1 582.6,589.0 584.3,572.7 586.1,575.4 587.9,587.5 589.7,572.7 591.4,571.2 593.2,582.3 595.0,582.9 596.7,583.5 598.5,563.0 600.3,511.2 602.1,566.4 603.8,547.4 605.6,535.0 607.4,547.4 609.2,554.1 610.9,547.4 612.7,532.3 614.5,516.0 616.2,500.3 618.0,505.2 619.8,480.7 621.6,539.2 623.3,559.5 625.1,554.7 626.9,562.0 628.7,575.4 630.4,587.5 632.2,576.8 634.0,574.7 635.7,573.3 637.5,579.6 639.3,576.0 641.1,578.1 642.8,575.4 644.6,574.7 646.4,576.8 648.2,578.1 649.9,577.5 651.7,576.8 653.5,575.4 655.2,572.0 657.0,570.6 658.8,578.1 660.6,580.8 662.3,590.4 664.1,552.4 665.9,576.8 667.7,508.5 669.4,556.4 671.2,587.7 673.0,555.1 674.7,553.6 676.5,545.5 678.3,574.1 680.1,524.2 681.8,542.8 683.6,576.8 683.6,617.6 681.8,598.6 680.1,590.4 678.3,617.6 676.5,590.4 674.7,604.0 673.0,598.6 671.2,633.1 669.4,603.8 667.7,582.9 665.9,633.1 664.1,603.8 662.3,635.1 660.6,624.3 658.8,623.0 657.0,614.9 655.2,616.1 653.5,618.8 651.7,620.9 649.9,621.6 648.2,622.2 646.4,621.6 644.6,620.3 642.8,618.8 641.1,623.0 639.3,617.6 637.5,623.0 635.7,616.1 634.0,617.6 632.2,619.5 630.4,632.4 628.7,616.1 626.9,598.6 625.1,595.9 623.3,606.7 621.6,587.1 619.8,541.1 618.0,553.6 616.2,549.5 614.5,563.0 612.7,582.1 610.9,594.4 609.2,599.8 607.4,594.4 605.6,582.1 603.8,594.4 602.1,609.4 600.3,566.2 598.5,609.4 596.7,627.0 595.0,625.7 593.2,624.3 591.4,616.1 589.7,614.9 587.9,631.2 586.1,620.3 584.3,617.6 582.6,632.4 580.8,637.9 579.0,606.7 577.2,609.4 575.5,631.2 573.7,595.9 571.9,601.3 570.2,620.3 568.4,632.4 566.6,631.2 564.8,642.0 563.1,632.4 561.3,631.2 559.5,639.3 557.7,627.0 556.0,621.6 554.2,637.9 552.4,642.0 550.7,642.0 548.9,637.9 547.1,625.7 545.3,635.1 543.6,628.5 541.8,650.2 540.0,631.2 538.2,627.0 536.5,636.6 534.7,655.6 532.9,592.7 531.2,594.2 529.4,605.1 527.6,602.3 525.8,609.0 524.1,605.1 522.3,610.5 520.5,622.6 518.7,613.2 517.0,611.7 515.2,603.6 513.4,613.2 511.7,605.1 509.9,622.6 508.1,606.3 506.3,596.9 504.6,605.1 502.8,606.3 501.0,610.5 499.2,619.3 497.5,615.9 495.7,611.7 493.9,605.1 492.2,613.2 490.4,633.5 488.6,606.3 486.8,592.7 485.1,610.5 483.3,607.8 481.5,606.3 479.7,610.5 478.0,594.2 476.2,602.3 474.4,613.2 472.7,622.6 470.9,615.9 469.1,605.1 467.3,610.5 465.6,596.9 463.8,590.0 462.0,599.6 460.2,606.3 458.5,611.7 456.7,596.9 454.9,609.0 453.2,596.9 451.4,594.2 449.6,605.1 447.8,599.6 446.1,624.1 444.3,639.3 442.5,643.3 440.7,639.3 439.0,651.5 437.2,633.9 435.4,635.1 433.7,639.3 431.9,642.0 430.1,623.0 428.3,625.7 426.6,628.5 424.8,629.7 423.0,630.3 421.2,628.5 419.5,633.9 417.7,631.2 415.9,628.5 414.2,627.0 412.4,625.7 410.6,624.3 408.8,642.0 407.1,659.0 405.3,654.2 403.5,655.6 401.7,656.9 400.0,655.6 398.2,631.2 396.4,625.7 394.7,627.0 392.9,625.7 391.1,635.1 389.3,648.7 387.6,614.9 385.8,628.5 384.0,620.3 382.2,640.6 380.5,639.3 378.7,658.3 376.9,644.8 375.2,642.0 373.4,636.6 371.6,628.5 369.8,648.7 368.1,643.3 366.3,644.8 364.5,646.0 362.7,639.3 361.0,636.6 359.2,636.6 357.4,647.5 355.6,642.0 353.9,639.3 352.1,644.8 350.3,639.3 348.6,641.8 346.8,624.1 345.0,628.3 343.2,632.2 341.5,626.8 339.7,655.4 337.9,640.4 336.1,633.7 334.4,631.0 332.6,628.3 330.8,624.1 329.1,618.6 327.3,638.3 325.5,636.4 323.7,639.7 322.0,637.7 320.2,629.5 318.4,629.5 316.6,632.2 314.9,651.2 313.1,655.4 311.3,640.4 309.6,628.3 307.8,632.2 306.0,633.7 304.2,644.6 302.5,612.8 300.7,593.8 298.9,607.4 297.1,601.9 295.4,591.1 293.6,570.8 291.8,570.8 290.1,570.8 288.3,570.8 286.5,570.8 284.7,577.5 283.0,588.3 281.2,593.8 279.4,617.0 277.6,599.2 275.9,585.6 274.1,588.3 272.3,599.2 270.6,593.8 268.8,607.4 267.0,593.8 265.2,582.9 263.5,581.6 261.7,593.8 259.9,614.2 258.1,611.5 256.4,596.5 254.6,593.8 252.8,595.2 251.1,610.1 249.3,593.8 247.5,609.4 245.7,625.7 244.0,633.9 242.2,628.5 240.4,614.9 238.6,631.2 236.9,636.6 235.1,605.3 233.3,614.9 231.6,610.7 229.8,609.4 228.0,613.4 226.2,621.6 224.5,609.4 222.7,614.9 220.9,617.6 219.1,618.8 217.4,623.0 215.6,614.9 213.8,616.1 212.1,608.0 210.3,613.4 208.5,609.4 206.7,614.9 205.0,625.7 203.2,616.1 201.4,620.3 199.6,614.9 197.9,618.8 196.1,618.4 194.3,642.0 192.6,605.9 190.8,603.4 189.0,603.4 187.2,603.4 185.5,603.4 183.7,603.4 181.9,615.7 180.1,629.5 178.4,620.1 176.6,623.0 174.8,635.1 173.1,628.5 171.3,614.9 169.5,623.0 167.7,636.6 166.0,644.8 164.2,643.9 162.4,643.3 160.6,656.9 158.9,652.9 157.1,648.7 155.3,644.8 153.6,631.8 151.8,632.4 150.0,633.1 148.2,631.2 146.5,611.1 144.7,605.7 142.9,608.4 141.1,604.2 139.4,605.7 137.6,609.7 135.8,613.8 134.1,616.3 132.3,600.2 130.5,602.8 128.7,592.1 127.0,606.9 125.2,608.4 123.4,611.1 121.6,592.1 119.9,605.9 118.1,602.8 116.3,600.2 114.6,593.4 112.8,581.2 111.0,592.1 109.2,604.2 107.5,585.2 105.7,575.8 103.9,574.5 102.1,582.9 100.4,587.9 98.6,585.0 96.8,582.9 95.1,567.2 93.3,561.0 91.5,562.0 89.7,574.5 88.0,587.1 86.2,582.9 84.4,603.8 82.6,597.5 80.9,618.4 79.1,616.3 77.3,618.4 75.6,597.5 73.8,611.1 72.0,616.3 70.2,623.7 68.5,613.0 66.7,613.8 64.9,613.0 63.1,615.1 61.4,624.7 59.6,627.8 57.8,596.1 56.1,600.2 54.3,597.5 52.5,600.2 50.7,606.9 49.0,615.1 47.2,602.8" fill="#5B9BD5"/>
<polyline points="47.2,579.8 49.0,597.5 50.7,587.9 52.5,582.9 54.3,577.7 56.1,581.2 57.8,575.8 59.6,609.7 61.4,606.9 63.1,597.5 64.9,594.0 66.7,595.4 68.5,594.8 70.2,604.2 72.0,597.5 73.8,593.4 75.6,576.4 77.3,666.5 79.1,598.8 80.9,666.5 82.6,575.8 84.4,583.9 86.2,560.7 88.0,662.7 89.7,544.4 91.5,559.5 93.3,555.7 95.1,551.3 96.8,541.7 98.6,567.6 100.4,568.3 102.1,570.4 103.9,549.3 105.7,555.3 107.5,563.5 109.2,583.9 111.0,571.6 112.8,560.7 114.6,574.3 116.3,581.2 118.1,586.7 119.9,666.5 121.6,570.4 123.4,605.7 125.2,592.1 127.0,589.4 128.7,570.4 130.5,583.9 132.3,582.5 134.1,597.5 135.8,596.1 137.6,592.1 139.4,586.7 141.1,586.0 142.9,587.9 144.7,585.2 146.5,592.1 148.2,613.4 150.0,614.0 151.8,614.9 153.6,613.4 155.3,627.0 157.1,629.7 158.9,635.1 160.6,639.3 162.4,625.7 164.2,624.3 166.0,625.7 167.7,616.1 169.5,601.3 171.3,591.7 173.1,618.8 174.8,632.4 176.6,618.8 178.4,607.4 180.1,609.4 181.9,614.9 183.7,616.1 185.5,615.5 187.2,613.4 189.0,607.4 190.8,608.0 192.6,606.7 194.3,625.7 196.1,595.9 197.9,599.8 199.6,597.1 201.4,601.3 203.2,597.1 205.0,607.4 206.7,599.8 208.5,593.8 210.3,597.1 212.1,589.6 213.8,598.6 215.6,597.1 217.4,605.3 219.1,601.9 220.9,601.3 222.7,595.9 224.5,591.7 226.2,605.3 228.0,595.9 229.8,592.5 231.6,593.1 233.3,597.1 235.1,584.2 236.9,617.6 238.6,614.9 240.4,595.9 242.2,610.7 244.0,617.6 245.7,609.4 247.5,589.0 249.3,572.0 251.1,591.1 252.8,576.2 254.6,573.5 256.4,574.7 258.1,593.8 259.9,595.2 261.7,569.3 263.5,553.8 265.2,558.4 267.0,572.0 268.8,588.3 270.6,574.7 272.3,581.6 274.1,566.6 275.9,563.9 277.6,578.9 279.4,599.2 281.2,574.7 283.0,572.0 284.7,559.9 286.5,574.7 288.3,578.9 290.1,591.1 291.8,582.9 293.6,579.6 295.4,581.6 297.1,585.6 298.9,588.3 300.7,576.2 302.5,593.8 304.2,626.8 306.0,615.9 307.8,614.7 309.6,609.2 311.3,617.4 313.1,637.0 314.9,624.1 316.6,614.7 318.4,610.5 320.2,609.2 322.0,618.6 323.7,620.1 325.5,617.4 327.3,621.4 329.1,598.4 330.8,606.5 332.6,610.5 334.4,613.2 336.1,615.9 337.9,624.1 339.7,638.3 341.5,606.5 343.2,613.2 345.0,609.2 346.8,604.4 348.6,622.8 350.3,618.2 352.1,623.0 353.9,620.3 355.6,627.0 357.4,629.7 359.2,628.5 361.0,633.9 362.7,629.1 364.5,627.0 366.3,624.9 368.1,623.0 369.8,631.2 371.6,605.3 373.4,616.1 375.2,621.6 376.9,625.7 378.7,641.2 380.5,620.3 382.2,621.6 384.0,598.6 385.8,609.4 387.6,592.9 389.3,631.2 391.1,616.1 392.9,604.6 394.7,609.4 396.4,605.9 398.2,610.7 400.0,636.6 401.7,638.5 403.5,639.3 405.3,636.6 407.1,640.0 408.8,623.0 410.6,604.6 412.4,605.3 414.2,606.7 415.9,608.6 417.7,614.9 419.5,615.5 421.2,609.4 423.0,613.4 424.8,612.2 426.6,611.3 428.3,608.6 430.1,602.5 431.9,623.0 433.7,621.6 435.4,616.1 437.2,614.0 439.0,633.9 440.7,620.3 442.5,625.7 444.3,621.6 446.1,588.8 447.8,573.7 449.6,586.0 451.4,565.1 453.2,561.0 454.9,578.7 456.7,566.2 458.5,594.2 460.2,590.0 462.0,580.6 463.8,571.0 465.6,577.9 467.3,592.7 469.1,586.0 470.9,598.2 472.7,605.1 474.4,594.2 476.2,583.3 478.0,575.2 479.7,591.5 481.5,587.3 483.3,588.8 485.1,592.7 486.8,573.7 488.6,588.8 490.4,615.9 492.2,599.6 493.9,587.3 495.7,592.7 497.5,598.2 499.2,599.6 501.0,599.6 502.8,588.8 504.6,587.3 506.3,580.0 508.1,588.8 509.9,605.1 511.7,586.0 513.4,595.4 515.2,586.0 517.0,594.2 518.7,595.4 520.5,603.6 522.3,592.7 524.1,587.3 525.8,591.5 527.6,583.3 529.4,588.8 531.2,575.2 532.9,575.8 534.7,640.6 536.5,620.3 538.2,609.4 540.0,610.1 541.8,632.4 543.6,610.7 545.3,620.3 547.1,605.9 548.9,620.3 550.7,624.3 552.4,623.0 554.2,620.3 556.0,600.5 557.7,606.7 559.5,621.6 561.3,610.7 563.1,612.2 564.8,624.3 566.6,612.2 568.4,616.1 570.2,601.3 571.9,576.6 573.7,560.1 575.5,614.9 577.2,584.8 579.0,582.1 580.8,618.8 582.6,614.9 584.3,597.1 586.1,599.8 587.9,614.9 589.7,595.9 591.4,597.1 593.2,606.7 595.0,608.0 596.7,609.4 598.5,584.8 600.3,535.0 602.1,591.7 603.8,575.4 605.6,559.5 607.4,575.4 609.2,580.8 610.9,576.6 612.7,561.8 614.5,541.1 616.2,524.2 618.0,552.8 619.8,504.5 621.6,578.7 623.3,587.7 625.1,579.6 626.9,580.8 628.7,599.8 630.4,614.9 632.2,601.3 634.0,599.8 635.7,597.7 637.5,606.7 639.3,601.3 641.1,605.3 642.8,601.3 644.6,599.8 646.4,602.5 648.2,603.2 649.9,602.5 651.7,601.9 653.5,601.3 655.2,597.1 657.0,596.5 658.8,604.0 660.6,604.6 662.3,620.3 664.1,576.8 665.9,617.6 667.7,531.9 669.4,576.8 671.2,616.1 673.0,579.6 674.7,580.8 676.5,569.9 678.3,599.8 680.1,548.2 681.8,576.8 683.6,602.5" fill="none" stroke="#FFFF00" stroke-width="2.4" stroke-linejoin="round" stroke-linecap="round"/>
<path d="M46.3,457.5 H684.5 V666.5" fill="none" stroke="#1a1a1a" stroke-width="1.2"/>
<path d="M46.3,457.5 V666.5 H684.5" fill="none" stroke="#333" stroke-width="1.1"/>
<path d="M46.30,666.5 v4.2M55.16,666.5 v4.2M64.03,666.5 v4.2M72.89,666.5 v4.2M81.76,666.5 v4.2M90.62,666.5 v4.2M99.48,666.5 v4.2M108.35,666.5 v4.2M117.21,666.5 v4.2M126.08,666.5 v4.2M134.94,666.5 v4.2M143.80,666.5 v4.2M152.67,666.5 v4.2M161.53,666.5 v4.2M170.39,666.5 v4.2M179.26,666.5 v4.2M188.12,666.5 v4.2M196.99,666.5 v4.2M205.85,666.5 v4.2M214.71,666.5 v4.2M223.58,666.5 v4.2M232.44,666.5 v4.2M241.31,666.5 v4.2M250.17,666.5 v4.2M259.03,666.5 v4.2M267.90,666.5 v4.2M276.76,666.5 v4.2M285.62,666.5 v4.2M294.49,666.5 v4.2M303.35,666.5 v4.2M312.22,666.5 v4.2M321.08,666.5 v4.2M329.94,666.5 v4.2M338.81,666.5 v4.2M347.67,666.5 v4.2M356.54,666.5 v4.2M365.40,666.5 v4.2M374.26,666.5 v4.2M383.13,666.5 v4.2M391.99,666.5 v4.2M400.86,666.5 v4.2M409.72,666.5 v4.2M418.58,666.5 v4.2M427.45,666.5 v4.2M436.31,666.5 v4.2M445.18,666.5 v4.2M454.04,666.5 v4.2M462.90,666.5 v4.2M471.77,666.5 v4.2M480.63,666.5 v4.2M489.49,666.5 v4.2M498.36,666.5 v4.2M507.22,666.5 v4.2M516.09,666.5 v4.2M524.95,666.5 v4.2M533.81,666.5 v4.2M542.68,666.5 v4.2M551.54,666.5 v4.2M560.41,666.5 v4.2M569.27,666.5 v4.2M578.13,666.5 v4.2M587.00,666.5 v4.2M595.86,666.5 v4.2M604.73,666.5 v4.2M613.59,666.5 v4.2M622.45,666.5 v4.2M631.32,666.5 v4.2M640.18,666.5 v4.2M649.04,666.5 v4.2M657.91,666.5 v4.2M666.77,666.5 v4.2M675.64,666.5 v4.2M684.50,666.5 v4.2" stroke="#333" stroke-width="1.1" fill="none"/>
<text transform="translate(51.09,676.00) rotate(-90) scale(1.000,0.900)" font-family="Liberation Serif, serif" font-size="13.2" text-anchor="end" fill="#000" stroke="#000" stroke-width="0.05">1</text>
<text transform="translate(65.27,676.00) rotate(-90) scale(1.000,0.900)" font-family="Liberation Serif, serif" font-size="13.2" text-anchor="end" fill="#000" stroke="#000" stroke-width="0.05">9</text>
<text transform="translate(79.45,676.00) rotate(-90) scale(1.000,0.900)" font-family="Liberation Serif, serif" font-size="13.2" text-anchor="end" fill="#000" stroke="#000" stroke-width="0.05">17</text>
<text transform="translate(93.63,676.00) rotate(-90) scale(1.000,0.900)" font-family="Liberation Serif, serif" font-size="13.2" text-anchor="end" fill="#000" stroke="#000" stroke-width="0.05">25</text>
<text transform="translate(107.82,676.00) rotate(-90) scale(1.000,0.900)" font-family="Liberation Serif, serif" font-size="13.2" text-anchor="end" fill="#000" stroke="#000" stroke-width="0.05">33</text>
<text transform="translate(122.00,676.00) rotate(-90) scale(1.000,0.900)" font-family="Liberation Serif, serif" font-size="13.2" text-anchor="end" fill="#000" stroke="#000" stroke-width="0.05">41</text>
<text transform="translate(136.18,676.00) rotate(-90) scale(1.000,0.900)" font-family="Liberation Serif, serif" font-size="13.2" text-anchor="end" fill="#000" stroke="#000" stroke-width="0.05">49</text>
<text transform="translate(150.36,676.00) rotate(-90) scale(1.000,0.900)" font-family="Liberation Serif, serif" font-size="13.2" text-anchor="end" fill="#000" stroke="#000" stroke-width="0.05">57</text>
<text transform="translate(164.54,676.00) rotate(-90) scale(1.000,0.900)" font-family="Liberation Serif, serif" font-size="13.2" text-anchor="end" fill="#000" stroke="#000" stroke-width="0.05">65</text>
<text transform="translate(178.73,676.00) rotate(-90) scale(1.000,0.900)" font-family="Liberation Serif, serif" font-size="13.2" text-anchor="end" fill="#000" stroke="#000" stroke-width="0.05">73</text>
<text transform="translate(192.91,676.00) rotate(-90) scale(1.000,0.900)" font-family="Liberation Serif, serif" font-size="13.2" text-anchor="end" fill="#000" stroke="#000" stroke-width="0.05">81</text>
<text transform="translate(207.09,676.00) rotate(-90) scale(1.000,0.900)" font-family="Liberation Serif, serif" font-size="13.2" text-anchor="end" fill="#000" stroke="#000" stroke-width="0.05">89</text>
<text transform="translate(221.27,676.00) rotate(-90) scale(1.000,0.900)" font-family="Liberation Serif, serif" font-size="13.2" text-anchor="end" fill="#000" stroke="#000" stroke-width="0.05">97</text>
<text transform="translate(235.46,676.00) rotate(-90) scale(1.000,0.900)" font-family="Liberation Serif, serif" font-size="13.2" text-anchor="end" fill="#000" stroke="#000" stroke-width="0.05">105</text>
<text transform="translate(249.64,676.00) rotate(-90) scale(1.000,0.900)" font-family="Liberation Serif, serif" font-size="13.2" text-anchor="end" fill="#000" stroke="#000" stroke-width="0.05">113</text>
<text transform="translate(263.82,676.00) rotate(-90) scale(1.000,0.900)" font-family="Liberation Serif, serif" font-size="13.2" text-anchor="end" fill="#000" stroke="#000" stroke-width="0.05">121</text>
<text transform="translate(278.00,676.00) rotate(-90) scale(1.000,0.900)" font-family="Liberation Serif, serif" font-size="13.2" text-anchor="end" fill="#000" stroke="#000" stroke-width="0.05">129</text>
<text transform="translate(292.18,676.00) rotate(-90) scale(1.000,0.900)" font-family="Liberation Serif, serif" font-size="13.2" text-anchor="end" fill="#000" stroke="#000" stroke-width="0.05">137</text>
<text transform="translate(306.37,676.00) rotate(-90) scale(1.000,0.900)" font-family="Liberation Serif, serif" font-size="13.2" text-anchor="end" fill="#000" stroke="#000" stroke-width="0.05">145</text>
<text transform="translate(320.55,676.00) rotate(-90) scale(1.000,0.900)" font-family="Liberation Serif, serif" font-size="13.2" text-anchor="end" fill="#000" stroke="#000" stroke-width="0.05">153</text>
<text transform="translate(334.73,676.00) rotate(-90) scale(1.000,0.900)" font-family="Liberation Serif, serif" font-size="13.2" text-anchor="end" fill="#000" stroke="#000" stroke-width="0.05">161</text>
<text transform="translate(348.91,676.00) rotate(-90) scale(1.000,0.900)" font-family="Liberation Serif, serif" font-size="13.2" text-anchor="end" fill="#000" stroke="#000" stroke-width="0.05">169</text>
<text transform="translate(363.10,676.00) rotate(-90) scale(1.000,0.900)" font-family="Liberation Serif, serif" font-size="13.2" text-anchor="end" fill="#000" stroke="#000" stroke-width="0.05">177</text>
<text transform="translate(377.28,676.00) rotate(-90) scale(1.000,0.900)" font-family="Liberation Serif, serif" font-size="13.2" text-anchor="end" fill="#000" stroke="#000" stroke-width="0.05">185</text>
<text transform="translate(391.46,676.00) rotate(-90) scale(1.000,0.900)" font-family="Liberation Serif, serif" font-size="13.2" text-anchor="end" fill="#000" stroke="#000" stroke-width="0.05">193</text>
<text transform="translate(405.64,676.00) rotate(-90) scale(1.000,0.900)" font-family="Liberation Serif, serif" font-size="13.2" text-anchor="end" fill="#000" stroke="#000" stroke-width="0.05">201</text>
<text transform="translate(419.82,676.00) rotate(-90) scale(1.000,0.900)" font-family="Liberation Serif, serif" font-size="13.2" text-anchor="end" fill="#000" stroke="#000" stroke-width="0.05">209</text>
<text transform="translate(434.01,676.00) rotate(-90) scale(1.000,0.900)" font-family="Liberation Serif, serif" font-size="13.2" text-anchor="end" fill="#000" stroke="#000" stroke-width="0.05">217</text>
<text transform="translate(448.19,676.00) rotate(-90) scale(1.000,0.900)" font-family="Liberation Serif, serif" font-size="13.2" text-anchor="end" fill="#000" stroke="#000" stroke-width="0.05">225</text>
<text transform="translate(462.37,676.00) rotate(-90) scale(1.000,0.900)" font-family="Liberation Serif, serif" font-size="13.2" text-anchor="end" fill="#000" stroke="#000" stroke-width="0.05">233</text>
<text transform="translate(476.55,676.00) rotate(-90) scale(1.000,0.900)" font-family="Liberation Serif, serif" font-size="13.2" text-anchor="end" fill="#000" stroke="#000" stroke-width="0.05">241</text>
<text transform="translate(490.74,676.00) rotate(-90) scale(1.000,0.900)" font-family="Liberation Serif, serif" font-size="13.2" text-anchor="end" fill="#000" stroke="#000" stroke-width="0.05">249</text>
<text transform="translate(504.92,676.00) rotate(-90) scale(1.000,0.900)" font-family="Liberation Serif, serif" font-size="13.2" text-anchor="end" fill="#000" stroke="#000" stroke-width="0.05">257</text>
<text transform="translate(519.10,676.00) rotate(-90) scale(1.000,0.900)" font-family="Liberation Serif, serif" font-size="13.2" text-anchor="end" fill="#000" stroke="#000" stroke-width="0.05">265</text>
<text transform="translate(533.28,676.00) rotate(-90) scale(1.000,0.900)" font-family="Liberation Serif, serif" font-size="13.2" text-anchor="end" fill="#000" stroke="#000" stroke-width="0.05">273</text>
<text transform="translate(547.46,676.00) rotate(-90) scale(1.000,0.900)" font-family="Liberation Serif, serif" font-size="13.2" text-anchor="end" fill="#000" stroke="#000" stroke-width="0.05">281</text>
<text transform="translate(561.65,676.00) rotate(-90) scale(1.000,0.900)" font-family="Liberation Serif, serif" font-size="13.2" text-anchor="end" fill="#000" stroke="#000" stroke-width="0.05">289</text>
<text transform="translate(575.83,676.00) rotate(-90) scale(1.000,0.900)" font-family="Liberation Serif, serif" font-size="13.2" text-anchor="end" fill="#000" stroke="#000" stroke-width="0.05">297</text>
<text transform="translate(590.01,676.00) rotate(-90) scale(1.000,0.900)" font-family="Liberation Serif, serif" font-size="13.2" text-anchor="end" fill="#000" stroke="#000" stroke-width="0.05">305</text>
<text transform="translate(604.19,676.00) rotate(-90) scale(1.000,0.900)" font-family="Liberation Serif, serif" font-size="13.2" text-anchor="end" fill="#000" stroke="#000" stroke-width="0.05">313</text>
<text transform="translate(618.38,676.00) rotate(-90) scale(1.000,0.900)" font-family="Liberation Serif, serif" font-size="13.2" text-anchor="end" fill="#000" stroke="#000" stroke-width="0.05">321</text>
<text transform="translate(632.56,676.00) rotate(-90) scale(1.000,0.900)" font-family="Liberation Serif, serif" font-size="13.2" text-anchor="end" fill="#000" stroke="#000" stroke-width="0.05">329</text>
<text transform="translate(646.74,676.00) rotate(-90) scale(1.000,0.900)" font-family="Liberation Serif, serif" font-size="13.2" text-anchor="end" fill="#000" stroke="#000" stroke-width="0.05">337</text>
<text transform="translate(660.92,676.00) rotate(-90) scale(1.000,0.900)" font-family="Liberation Serif, serif" font-size="13.2" text-anchor="end" fill="#000" stroke="#000" stroke-width="0.05">345</text>
<text transform="translate(675.10,676.00) rotate(-90) scale(1.000,0.900)" font-family="Liberation Serif, serif" font-size="13.2" text-anchor="end" fill="#000" stroke="#000" stroke-width="0.05">353</text>
<text transform="translate(41.50,672.50) scale(0.767,1.000)" font-family="Liberation Serif, serif" font-size="18" text-anchor="end" fill="#000" stroke="#000" stroke-width="0.25">0</text>
<text transform="translate(41.50,651.60) scale(0.767,1.000)" font-family="Liberation Serif, serif" font-size="18" text-anchor="end" fill="#000" stroke="#000" stroke-width="0.25">100</text>
<text transform="translate(41.50,630.70) scale(0.767,1.000)" font-family="Liberation Serif, serif" font-size="18" text-anchor="end" fill="#000" stroke="#000" stroke-width="0.25">200</text>
<text transform="translate(41.50,609.80) scale(0.767,1.000)" font-family="Liberation Serif, serif" font-size="18" text-anchor="end" fill="#000" stroke="#000" stroke-width="0.25">300</text>
<text transform="translate(41.50,588.90) scale(0.767,1.000)" font-family="Liberation Serif, serif" font-size="18" text-anchor="end" fill="#000" stroke="#000" stroke-width="0.25">400</text>
<text transform="translate(41.50,568.00) scale(0.767,1.000)" font-family="Liberation Serif, serif" font-size="18" text-anchor="end" fill="#000" stroke="#000" stroke-width="0.25">500</text>
<text transform="translate(41.50,547.10) scale(0.767,1.000)" font-family="Liberation Serif, serif" font-size="18" text-anchor="end" fill="#000" stroke="#000" stroke-width="0.25">600</text>
<text transform="translate(41.50,526.20) scale(0.767,1.000)" font-family="Liberation Serif, serif" font-size="18" text-anchor="end" fill="#000" stroke="#000" stroke-width="0.25">700</text>
<text transform="translate(41.50,505.30) scale(0.767,1.000)" font-family="Liberation Serif, serif" font-size="18" text-anchor="end" fill="#000" stroke="#000" stroke-width="0.25">800</text>
<text transform="translate(41.50,484.40) scale(0.767,1.000)" font-family="Liberation Serif, serif" font-size="18" text-anchor="end" fill="#000" stroke="#000" stroke-width="0.25">900</text>
<text transform="translate(41.50,463.50) scale(0.767,1.000)" font-family="Liberation Serif, serif" font-size="18" text-anchor="end" fill="#000" stroke="#000" stroke-width="0.25">1000</text>
<text transform="translate(8.0,558.7) rotate(-90) scale(1.151,1)" font-family="Liberation Sans, sans-serif" font-size="8.8" text-anchor="middle" fill="#000" stroke="#000" stroke-width="0.3">Evaporation value (mm)</text>
<text transform="translate(323.00,713.80) scale(0.848,1.000)" font-family="Liberation Serif, serif" font-size="14" text-anchor="start" fill="#000" stroke="#000" stroke-width="0.25">Number of month</text>
<rect x="231.1" y="426.4" width="18.1" height="7" fill="#5B9BD5"/>
<text transform="translate(253.60,435.00) scale(0.835,1.000)" font-family="Liberation Serif, serif" font-size="14.6" text-anchor="start" fill="#000" stroke="#000" stroke-width="0.25">Uncertainty bound</text>
<path d="M360.5,430.3 H380.6" stroke="#FFFF00" stroke-width="2"/>
<text transform="translate(382.40,435.00) scale(0.840,1.000)" font-family="Liberation Serif, serif" font-size="14.6" text-anchor="start" fill="#000" stroke="#000" stroke-width="0.25">Observed data</text>
<path d="M187.5,523.8 L180.1,582.6" stroke="#000" stroke-width="0.9" fill="none"/>
<path d="M179.2,589.8 L176.9,582.2 L183.3,583.0 Z" fill="#000"/>
<path d="M195.8,521.3 L188.1,580.1" stroke="#000" stroke-width="0.9" fill="none"/>
<path d="M187.1,587.3 L184.9,579.6 L191.2,580.5 Z" fill="#000"/>
<path d="M210.8,520.3 L202.6,578.9" stroke="#000" stroke-width="0.9" fill="none"/>
<path d="M201.6,586.1 L199.4,578.4 L205.8,579.3 Z" fill="#000"/>
<path d="M300.7,481.9 L293.4,540.6" stroke="#000" stroke-width="0.9" fill="none"/>
<path d="M292.5,547.8 L290.2,540.2 L296.6,541.0 Z" fill="#000"/>
<path d="M314.0,503.2 L306.4,562.7" stroke="#000" stroke-width="0.9" fill="none"/>
<path d="M305.5,569.9 L303.2,562.3 L309.6,563.1 Z" fill="#000"/>
<path d="M329.5,521.3 L321.8,580.3" stroke="#000" stroke-width="0.9" fill="none"/>
<path d="M320.9,587.5 L318.7,579.8 L325.0,580.7 Z" fill="#000"/>
<path d="M348.6,526.1 L341.0,585.1" stroke="#000" stroke-width="0.9" fill="none"/>
<path d="M340.1,592.3 L337.9,584.7 L344.2,585.5 Z" fill="#000"/>
<path d="M369.9,540.5 L362.5,599.5" stroke="#000" stroke-width="0.9" fill="none"/>
<path d="M361.6,606.7 L359.3,599.1 L365.7,599.9 Z" fill="#000"/>
<text transform="translate(192.30,777.50)" font-family="Liberation Serif, serif" font-size="16.8" text-anchor="start" fill="#000" stroke="#000" stroke-width="0.25">MKELM (PICP=0.87, PINW=0.21)</text>
</g>
</svg></body></html>
